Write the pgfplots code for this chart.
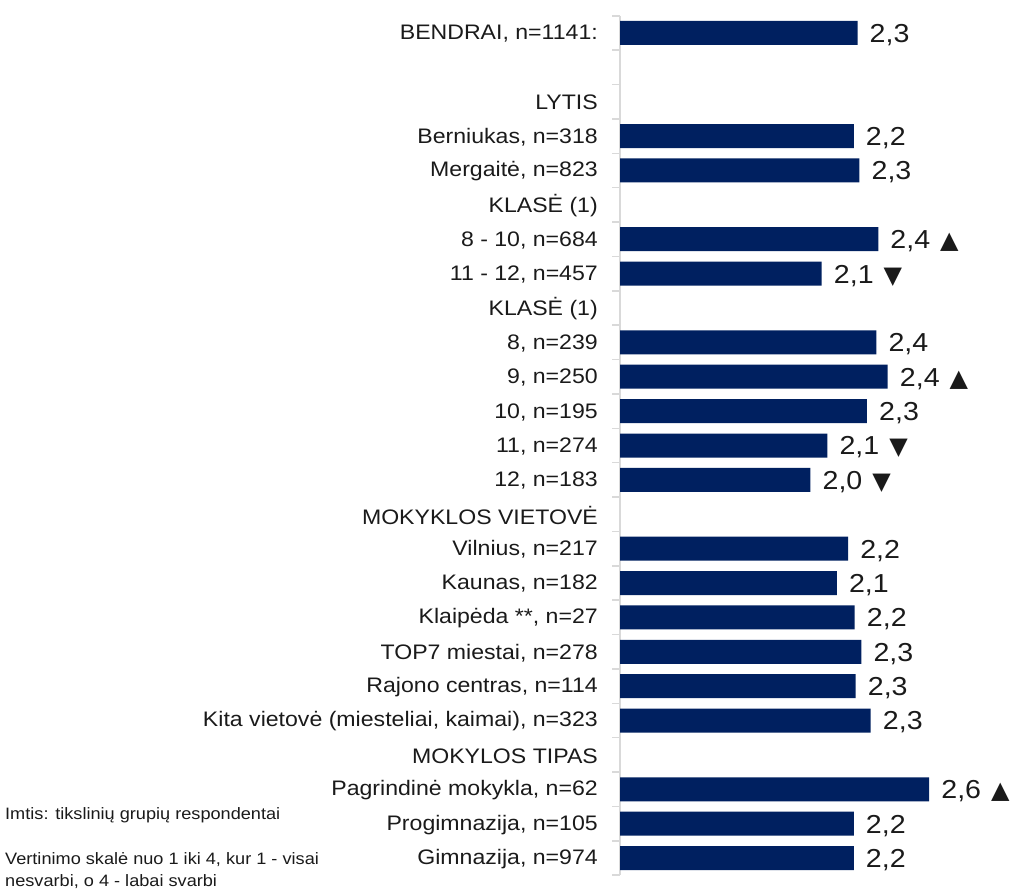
\documentclass[border=0pt]{standalone}
\usepackage{pgfplots}
\usepackage{pgfplotstable}
\pgfplotsset{compat=1.18}
\usepackage{fontspec}
\setmainfont[FakeStretch=1.1]{Liberation Sans}
\newfontfamily\dejavu{DejaVu Sans}
\definecolor{navy}{HTML}{002060}
\definecolor{axgray}{HTML}{D9D9D9}
\definecolor{txt}{HTML}{1A1A1A}
\newcommand{\up}{\hspace{10pt}{\dejavu\fontsize{24}{28}\selectfont ▲}}
\newcommand{\down}{\hspace{10pt}{\dejavu\fontsize{24}{28}\selectfont ▼}}
\pgfplotstableread[col sep=semicolon]{
idx;val;label
0;2.26;2,3
3;2.24;2,2
4;2.27;2,3
6;2.37;2,4\up
7;2.07;2,1\down
9;2.36;2,4
10;2.42;2,4\up
11;2.31;2,3
12;2.10;2,1\down
13;2.01;2,0\down
15;2.21;2,2
16;2.15;2,1
17;2.245;2,2
18;2.28;2,3
19;2.25;2,3
20;2.33;2,3
22;2.64;2,6\up
23;2.24;2,2
24;2.24;2,2
}\datatable
\begin{document}
\begin{tikzpicture}
\useasboundingbox (0,0) rectangle (1014pt,890pt);
\begin{axis}[
  at={(620pt,14.8pt)}, anchor=south west,
  scale only axis,
  width=394pt, height=859.4pt,
  xmin=0, xmax=2.09,
  ymin=-0.5, ymax=24.5,
  y dir=reverse,
  clip=false,
  axis x line=none,
  axis y line*=left,
  y axis line style={draw=axgray, line width=1.5pt},
  ytick={0,...,24},
  yticklabels={{BENDRAI, n=1141:},{},{LYTIS},{Berniukas, n=318},{Mergaitė, n=823},{KLASĖ (1)},{8 - 10, n=684},{11 - 12, n=457},{KLASĖ (1)},{8, n=239},{9, n=250},{10, n=195},{11, n=274},{12, n=183},{MOKYKLOS VIETOVĖ},{Vilnius, n=217},{Kaunas, n=182},{Klaipėda **, n=27},{TOP7 miestai, n=278},{Rajono centras, n=114},{Kita vietovė (miesteliai, kaimai), n=323},{MOKYLOS TIPAS},{Pagrindinė mokykla, n=62},{Progimnazija, n=105},{Gimnazija, n=974}},
  minor ytick={-0.5,0.5,...,24.5},
  major tick length=0pt,
  minor tick length=8pt,
  tick align=outside,
  ytick style={draw=axgray, line width=1.5pt},
  minor tick style={draw=axgray, line width=1.5pt},
  yticklabel style={anchor=east, inner sep=0pt, xshift=-22pt, yshift=-1pt, font=\fontsize{21}{25}\selectfont, text=txt},
]
\addplot[xbar, bar width=24pt, fill=navy, draw=none,
  point meta=explicit symbolic,
  nodes near coords,
  nodes near coords style={anchor=west, inner sep=0pt, xshift=12pt, yshift=-2pt, font=\fontsize{26}{30}\selectfont, text=txt}]
  table[x expr=\thisrow{val}-1, y=idx, meta=label]{\datatable};
\end{axis}
\begin{scope}[every node/.style={anchor=west, inner sep=0pt, text=txt, font=\fontsize{16.5}{20}\selectfont}]
\node at (5pt,75pt) {Imtis: tikslinių grupių respondentai};
\node at (5pt,30pt) {Vertinimo skalė nuo 1 iki 4, kur 1 - visai};
\node at (5pt,8pt) {nesvarbi, o 4 - labai svarbi};
\end{scope}
\end{tikzpicture}
\end{document}
